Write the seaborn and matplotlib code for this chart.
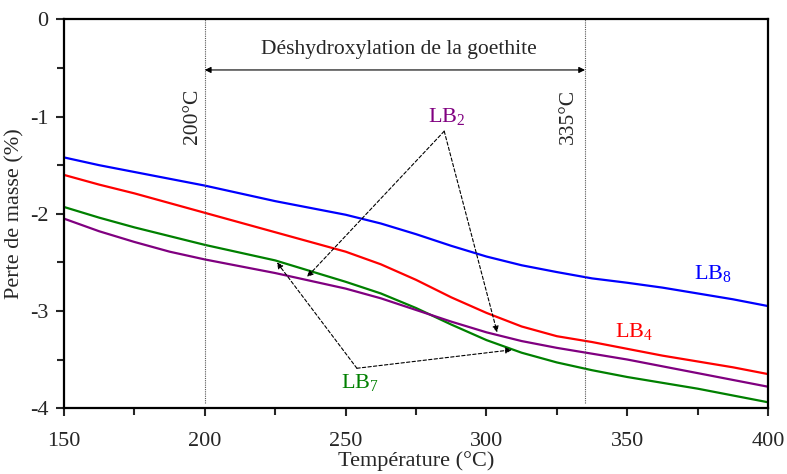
import numpy as np
import pandas as pd
import matplotlib
matplotlib.use('Agg')
import matplotlib.pyplot as plt
import seaborn as sns

# TGA curves (temperature in °C, mass loss in %)
temperature = [150, 162.5, 175, 187.5, 200, 212.5, 225, 237.5, 250, 262.5, 275,
               287.5, 300, 312.5, 325, 337.5, 350, 362.5, 375, 387.5, 400]
lb8 = [-1.42, -1.50, -1.57, -1.64, -1.71, -1.79, -1.87, -1.94, -2.01, -2.10, -2.21,
       -2.33, -2.44, -2.53, -2.60, -2.665, -2.71, -2.76, -2.82, -2.88, -2.95]
lb4 = [-1.60, -1.70, -1.79, -1.89, -1.99, -2.09, -2.19, -2.29, -2.39, -2.52, -2.68,
       -2.86, -3.02, -3.16, -3.26, -3.32, -3.39, -3.46, -3.52, -3.58, -3.65]
lb7 = [-1.93, -2.04, -2.14, -2.23, -2.32, -2.40, -2.48, -2.59, -2.70, -2.82, -2.97,
       -3.14, -3.30, -3.43, -3.53, -3.61, -3.68, -3.74, -3.80, -3.87, -3.94]
lb2 = [-2.05, -2.18, -2.29, -2.39, -2.47, -2.54, -2.61, -2.69, -2.77, -2.87, -2.99,
       -3.11, -3.22, -3.31, -3.38, -3.44, -3.50, -3.57, -3.64, -3.71, -3.78]

series = {'LB8': lb8, 'LB4': lb4, 'LB7': lb7, 'LB2': lb2}
palette = {'LB8': '#0000ff', 'LB4': '#ff0000', 'LB7': '#008000', 'LB2': '#800080'}

x_ticks = [150, 200, 250, 300, 350, 400]
y_ticks = [0, -1, -2, -3, -4]
t_start, t_end = 200, 335

df = pd.concat([pd.DataFrame({'T': temperature, 'perte': v, 'echantillon': k})
                for k, v in series.items()], ignore_index=True)

sns.set_style('ticks')
plt.rcParams['font.family'] = ['Liberation Serif', 'DejaVu Serif']
plt.rcParams['mathtext.fontset'] = 'custom'
plt.rcParams['mathtext.rm'] = 'Liberation Serif'
plt.rcParams['mathtext.it'] = 'Liberation Serif:italic'

fig = plt.figure(figsize=(7.87, 4.74), dpi=100)
ax = fig.add_axes([0.0813, 0.139, 0.8947, 0.820])

sns.lineplot(data=df, x='T', y='perte', hue='echantillon', palette=palette,
             linewidth=1.6, legend=False, ax=ax)

ax.set_xlim(150, 400)
ax.set_ylim(-4, 0)
ax.set_xticks(x_ticks)
ax.set_yticks(y_ticks)
ax.set_xticks([175, 225, 275, 325, 375], minor=True)
ax.set_yticks([-0.5, -1.5, -2.5, -3.5], minor=True)
ax.set_yticklabels([str(v) for v in y_ticks])
ax.tick_params(which='major', direction='out', length=6, width=1.5, labelsize=16)
ax.tick_params(axis='x', which='major', pad=11)
ax.tick_params(axis='y', which='major', pad=5)
ax.tick_params(which='minor', direction='out', length=5, width=1.5)
for s in ax.spines.values():
    s.set_linewidth(1.6)
    s.set_color('black')

ax.set_xlabel('Température (°C)', fontsize=16, labelpad=0)
ax.set_ylabel('Perte de masse (%)', fontsize=16, labelpad=4)

# dehydroxylation window
for t in (t_start, t_end):
    ax.plot([t, t], [-3.95, 0], color='#555555', lw=0.8, ls=(0, (1, 1)))
ax.annotate('', xy=(t_start, -0.52), xytext=(t_end, -0.52),
            arrowprops=dict(arrowstyle='<|-|>', lw=0.8, color='black',
                            mutation_scale=9, shrinkA=0, shrinkB=0))
ax.text(269, -0.31, 'Déshydroxylation de la goethite', ha='center', va='center', fontsize=15.5)
ax.text(195.5, -1.0, '200°C', rotation=90, ha='center', va='center', fontsize=15.5)
ax.text(329, -1.0, '335°C', rotation=90, ha='center', va='center', fontsize=15.5)

# curve labels
ax.text(286, -1.0, r'LB$_{\mathrm{2}}$', color=palette['LB2'], ha='center', va='center', fontsize=16)
ax.text(255, -3.74, r'LB$_{\mathrm{7}}$', color=palette['LB7'], ha='center', va='center', fontsize=16)
ax.text(380.5, -2.61, r'LB$_{\mathrm{8}}$', color=palette['LB8'], ha='center', va='center', fontsize=16)
ax.text(352.4, -3.21, r'LB$_{\mathrm{4}}$', color=palette['LB4'], ha='center', va='center', fontsize=16)

arrow_kw = dict(arrowstyle='-|>', lw=0.8, color='black', ls=(0, (3, 2)),
                mutation_scale=9, shrinkA=0, shrinkB=0)
for end in [(236.3, -2.65), (303.8, -3.22)]:
    ax.annotate('', xy=end, xytext=(285, -1.15), arrowprops=arrow_kw)
for end in [(225.6, -2.50), (309, -3.40)]:
    ax.annotate('', xy=end, xytext=(254, -3.59), arrowprops=arrow_kw)

fig.savefig('out.png', dpi=100)
